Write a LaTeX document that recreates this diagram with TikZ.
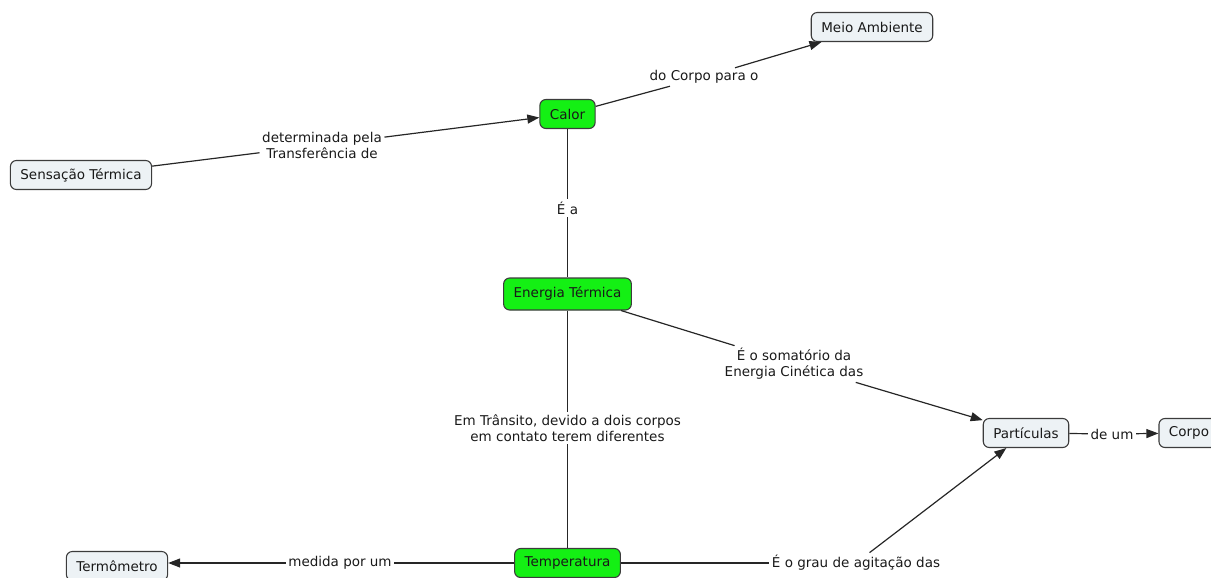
\documentclass[tikz,border=0pt]{standalone}
\usepackage{fontspec}
\setmainfont{DejaVu Sans}
\usetikzlibrary{arrows.meta}
\definecolor{linegray}{HTML}{262626}
\definecolor{boxgray}{HTML}{EDF2F5}
\definecolor{boxgreen}{HTML}{14F014}
\begin{document}
\begin{tikzpicture}[x=1pt,y=-1pt,
  every node/.style={font=\fontsize{13.5}{16}\selectfont},
  concept/.style={draw=linegray!90, line width=1.1pt, rounded corners=6pt,
    inner xsep=10pt, minimum height=29pt, text=black!90},
  plain/.style={concept, fill=boxgray},
  hot/.style={concept, fill=boxgreen},
  linklabel/.style={inner sep=2.5pt, align=center, text=black!90},
  link/.style={draw=linegray, line width=1.2pt},
  arrowlink/.style={link, -{Triangle[length=12pt,width=9pt]}}]
\useasboundingbox (0,0) rectangle (1211,578);

% concepts
\node[plain] (meio) at (872,27) {Meio Ambiente};
\node[hot] (calor) at (567.5,114) {Calor};
\node[plain] (sens) at (81,175) {Sensação Térmica};
\node[hot, minimum height=32pt] (energia) at (567.5,294) {Energia Térmica};
\node[plain] (part) at (1026,433) {Partículas};
\node[plain] (corpo) at (1189,433) {Corpo};
\node[plain] (termo) at (117,566) {Termômetro};
\node[hot] (temp) at (567.5,563) {Temperatura};

% linking phrases
\node[linklabel] (l1) at (322,145) {determinada pela\\Transferência de};
\node[linklabel] (l2) at (704,77) {do Corpo para o};
\node[linklabel] (l3) at (567.5,208) {É a};
\node[linklabel] (l4) at (794,364) {É o somatório da\\Energia Cinética das};
\node[linklabel] (l5) at (567.5,428) {Em Trânsito, devido a dois corpos\\em contato terem diferentes};
\node[linklabel] (l6) at (340,563) {medida por um};
\node[linklabel] (l7) at (1112,434) {de um};
\node[linklabel] (l8) at (856,563) {É o grau de agitação das};

% connections
\draw[link] (sens) -- (l1);
\draw[arrowlink] (l1) -- (calor);
\draw[link] (calor) -- (l2);
\draw[arrowlink] (l2) -- (meio);
\draw[link] (calor) -- (l3);
\draw[link] (l3) -- (energia);
\draw[link] (energia) -- (l4);
\draw[arrowlink] (l4) -- (part);
\draw[link] (energia) -- (l5);
\draw[link] (l5) -- (temp);
\draw[link] (temp) -- (l6);
\draw[arrowlink] (l6.west) -- (l6.west -| termo.east);
\draw[link] (temp) -- (l8);
\draw[arrowlink] (l8) -- (part);
\draw[link] (part) -- (l7);
\draw[arrowlink] (l7) -- (corpo);
\end{tikzpicture}
\end{document}
